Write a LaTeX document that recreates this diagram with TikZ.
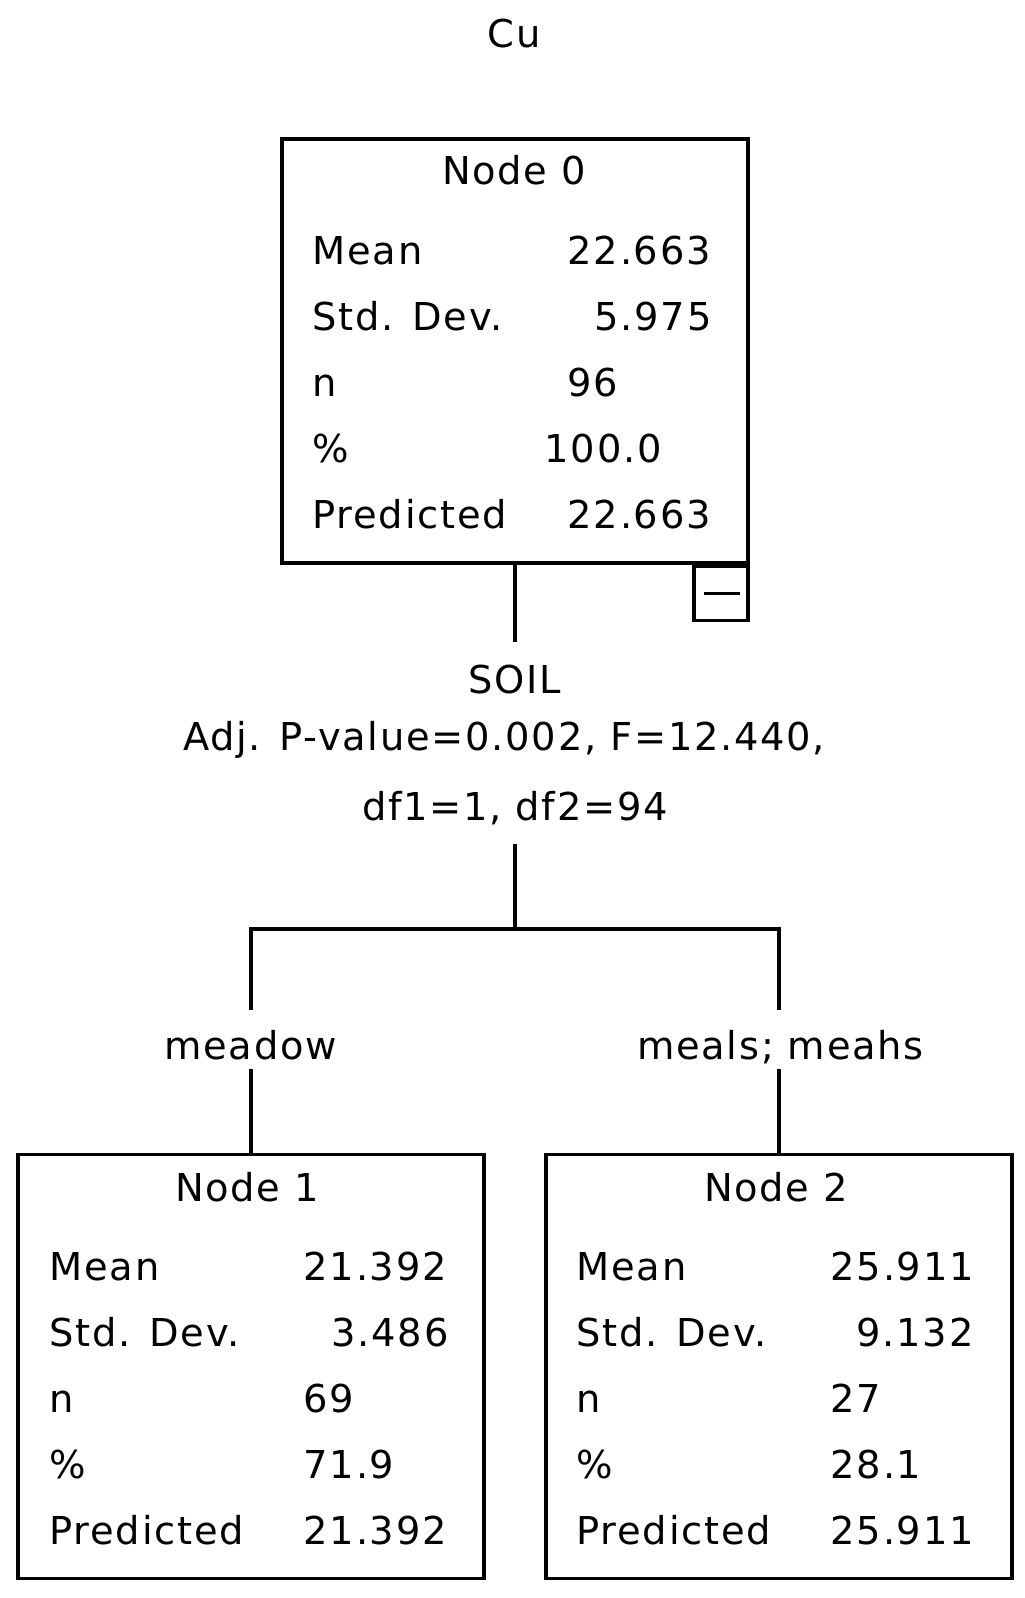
\documentclass[tikz,border=0pt]{standalone}
\usepackage{fontspec}
\setmainfont{DejaVu Sans}[LetterSpace=4.5]
\begin{document}
\begin{tikzpicture}[
            x=0.5pt,
            y=-0.5pt,
            line width=1.7pt,
            treebox/.style={
                draw,
                minimum width=233pt,
                minimum height=212pt,
                inner sep=0pt
            },
            lbl/.style={
                inner sep=0pt,
                anchor=base west,
                font=\fontsize{19.2}{23}\selectfont
            },
            heading/.style={lbl, anchor=base}
        ]

            \fill[white] (0,0) rectangle (1024,1598);

            \node[heading] (cu) at (514,48) {Cu};

            % root node
            \node[treebox] (n0) at (515,351) {};
            \node[draw, minimum size=27pt, inner sep=0pt, anchor=north east] (btn) at (n0.south east) {};
            \draw ([xshift=6pt]btn.west) -- ([xshift=-5pt]btn.east);

            \node[heading] (n0t) at (514,185) {Node 0};
            \node[lbl] (n0a) at (311,265) {Mean};
            \node[lbl] (n0b) at (311,331) {Std. Dev.};
            \node[lbl] (n0c) at (311,397) {n};
            \node[lbl] (n0d) at (311,463) {\%};
            \node[lbl] (n0e) at (311,529) {Predicted};
            \node[lbl] (n0av) at (566,265) {22.663};
            \node[lbl] (n0bv) at (593,331) {5.975};
            \node[lbl] (n0cv) at (566,397) {96};
            \node[lbl] (n0dv) at (543,463) {100.0};
            \node[lbl] (n0ev) at (566,529) {22.663};

            % split
            \node[heading] (soil) at (515,693) {SOIL};
            \node[heading] (adj) at (504,750) {Adj. P-value=0.002, F=12.440,};
            \node[heading] (df) at (515,820) {df1=1, df2=94};

            \node[heading] (br1) at (250.5,1059) {meadow};
            \node[heading] (br2) at (780.5,1059) {meals; meahs};

            % child nodes
            \node[treebox] (n1) at (251,1366.5) {};
            \node[heading] (n1t) at (247,1201) {Node 1};
            \node[lbl] (n1a) at (48,1280) {Mean};
            \node[lbl] (n1b) at (48,1346) {Std. Dev.};
            \node[lbl] (n1c) at (48,1412) {n};
            \node[lbl] (n1d) at (48,1478) {\%};
            \node[lbl] (n1e) at (48,1544) {Predicted};
            \node[lbl] (n1av) at (302,1280) {21.392};
            \node[lbl] (n1bv) at (330,1346) {3.486};
            \node[lbl] (n1cv) at (302,1412) {69};
            \node[lbl] (n1dv) at (302,1478) {71.9};
            \node[lbl] (n1ev) at (302,1544) {21.392};

            \node[treebox] (n2) at (779,1366.5) {};
            \node[heading] (n2t) at (776,1201) {Node 2};
            \node[lbl] (n2a) at (575,1280) {Mean};
            \node[lbl] (n2b) at (575,1346) {Std. Dev.};
            \node[lbl] (n2c) at (575,1412) {n};
            \node[lbl] (n2d) at (575,1478) {\%};
            \node[lbl] (n2e) at (575,1544) {Predicted};
            \node[lbl] (n2av) at (829,1280) {25.911};
            \node[lbl] (n2bv) at (855,1346) {9.132};
            \node[lbl] (n2cv) at (829,1412) {27};
            \node[lbl] (n2dv) at (829,1478) {28.1};
            \node[lbl] (n2ev) at (829,1544) {25.911};

            % connectors
            \coordinate (soilin) at (515,642);
            \coordinate (dfout) at (515,844);
            \coordinate (fork) at (515,929);
            \coordinate (b1) at (251,1010);
            \coordinate (b2) at (779,1010);
            \coordinate (c1) at (251,1069);
            \coordinate (c2) at (779,1069);

            \draw (n0.south) -- (soilin);
            \draw (dfout) -- (fork);
            \draw (b1) |- (fork) -| (b2);
            \draw (c1) -- (n1.north);
            \draw (c2) -- (n2.north);

        \end{tikzpicture}
\end{document}
